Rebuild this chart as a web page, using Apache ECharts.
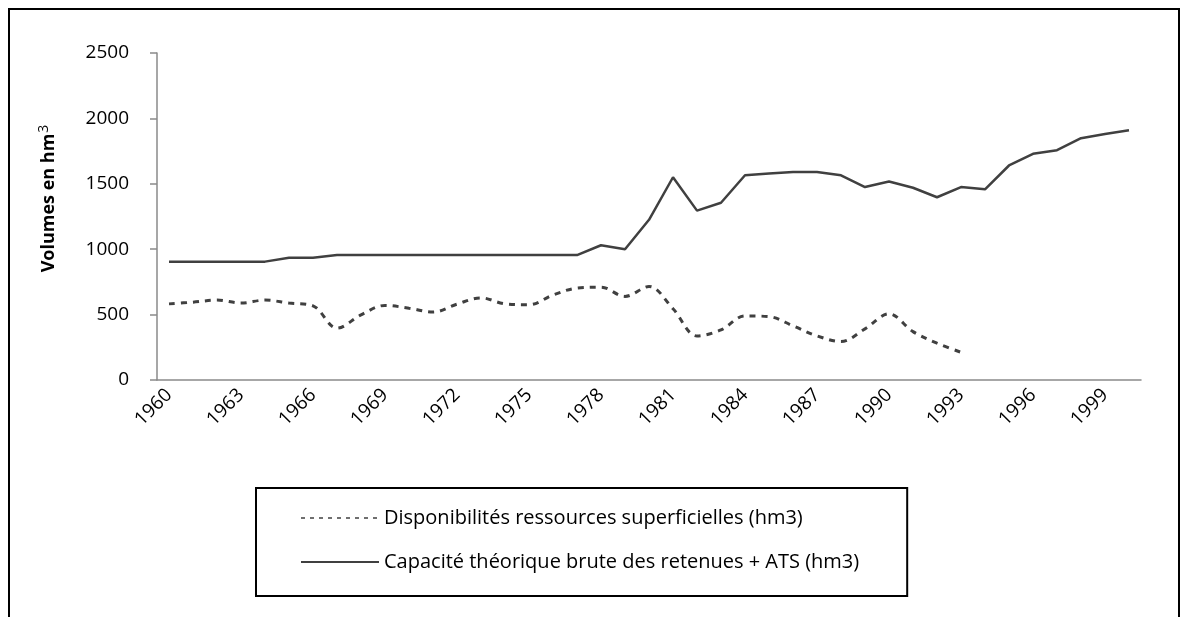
<!DOCTYPE html>
<html>
<head>
<meta charset="utf-8">
<script src="https://cdn.jsdelivr.net/npm/echarts@6/dist/echarts.min.js"></script>
<style>
  html, body { margin: 0; padding: 0; background: #fff; }
  #chart { position: absolute; left: 0; top: 0; width: 1186px; height: 617px; }
  #frame { position: absolute; left: 8px; top: 8px; width: 1168px; height: 640px;
           border: 2px solid #000; border-bottom: none; pointer-events: none; }
</style>
</head>
<body>
<div id="chart"></div>
<div id="frame"></div>
<script>
// annees (categories)
var years = ['1960','1961','1962','1963','1964','1965','1966','1967','1968','1969',
             '1970','1971','1972','1973','1974','1975','1976','1977','1978','1979',
             '1980','1981','1982','1983','1984','1985','1986','1987','1988','1989',
             '1990','1991','1992','1993','1994','1995','1996','1997','1998','1999','2000'];

// Disponibilités ressources superficielles (hm3), 1960-1993
var disponibilites = [582, 595, 611, 588, 611, 588, 567, 396, 498, 570,
                      549, 519, 580, 628, 582, 575, 650, 703, 710, 639,
                      715, 545, 337, 383, 490, 485, 414, 337, 294, 391,
                      506, 370, 281, 212, null, null, null, null, null, null, null];

// Capacité théorique brute des retenues + ATS (hm3)
var capacite = [905, 905, 905, 905, 905, 935, 935, 955, 955, 955,
                955, 955, 955, 955, 955, 955, 955, 955, 1030, 1000,
                1225, 1550, 1295, 1355, 1565, 1578, 1591, 1591, 1565, 1475,
                1517, 1470, 1397, 1475, 1458, 1640, 1729, 1757, 1849, 1880, 1910];

var yTicks = [0, 2500, 500]; // min, max, pas

var serieNames = ['Disponibilités ressources superficielles (hm3)',
                  'Capacité théorique brute des retenues + ATS (hm3)'];

var font = "'Open Sans', 'Noto Sans', sans-serif";
var lineColor = '#404040';
var axisColor = '#8a8a8a';

var chart = echarts.init(document.getElementById('chart'));
chart.setOption({
    animation: false,
    color: [lineColor, lineColor],
    grid: { left: 157, right: 45, top: 53, bottom: 237 },
    legend: {
        orient: 'vertical',
        left: 256,
        top: 488,
        padding: [20, 48, 24, 44],
        itemGap: 24,
        itemWidth: 78,
        itemHeight: 14,
        borderColor: '#000',
        borderWidth: 2,
        itemStyle: { opacity: 0 },
        textStyle: { fontFamily: font, fontSize: 20, color: '#000' },
        data: [
            { name: serieNames[0], lineStyle: { type: [4, 5], width: 1.5, color: lineColor } },
            { name: serieNames[1], lineStyle: { width: 2, color: lineColor } }
        ]
    },
    xAxis: {
        type: 'category',
        data: years,
        boundaryGap: true,
        axisLine: { lineStyle: { color: axisColor, width: 1.5 } },
        axisTick: { interval: 0, length: 7, lineStyle: { color: axisColor, width: 1.5 } },
        axisLabel: { interval: 2, rotate: 45, margin: 12, fontFamily: font, fontSize: 19, color: '#000' }
    },
    yAxis: {
        type: 'value',
        min: yTicks[0],
        max: yTicks[1],
        interval: yTicks[2],
        name: '{a|Volumes en hm}{b|3}',
        nameLocation: 'middle',
        nameGap: 96,
        nameRotate: 90,
        nameTextStyle: {
            padding: [0, 0, 0, 36],
            rich: {
                a: { fontFamily: font, fontSize: 18, fontWeight: 'bold', color: '#000' },
                b: { fontFamily: font, fontSize: 14, fontWeight: 'normal', color: '#000', verticalAlign: 'top', padding: [0, 0, 10, 1] }
            }
        },
        splitLine: { show: false },
        axisLine: { show: true, lineStyle: { color: axisColor, width: 1.5 } },
        axisTick: { show: true, length: 7, lineStyle: { color: axisColor, width: 1.5 } },
        axisLabel: {
            margin: 28, fontFamily: font, fontSize: 19, color: '#000',
            formatter: function (v) { return String(v); }
        }
    },
    series: [
        {
            name: serieNames[0],
            type: 'line',
            data: disponibilites,
            smooth: 0.35,
            symbol: 'none',
            lineStyle: { color: lineColor, width: 3, type: [6, 6] }
        },
        {
            name: serieNames[1],
            type: 'line',
            data: capacite,
            symbol: 'none',
            lineStyle: { color: lineColor, width: 2.5 }
        }
    ]
});
</script>
</body>
</html>
